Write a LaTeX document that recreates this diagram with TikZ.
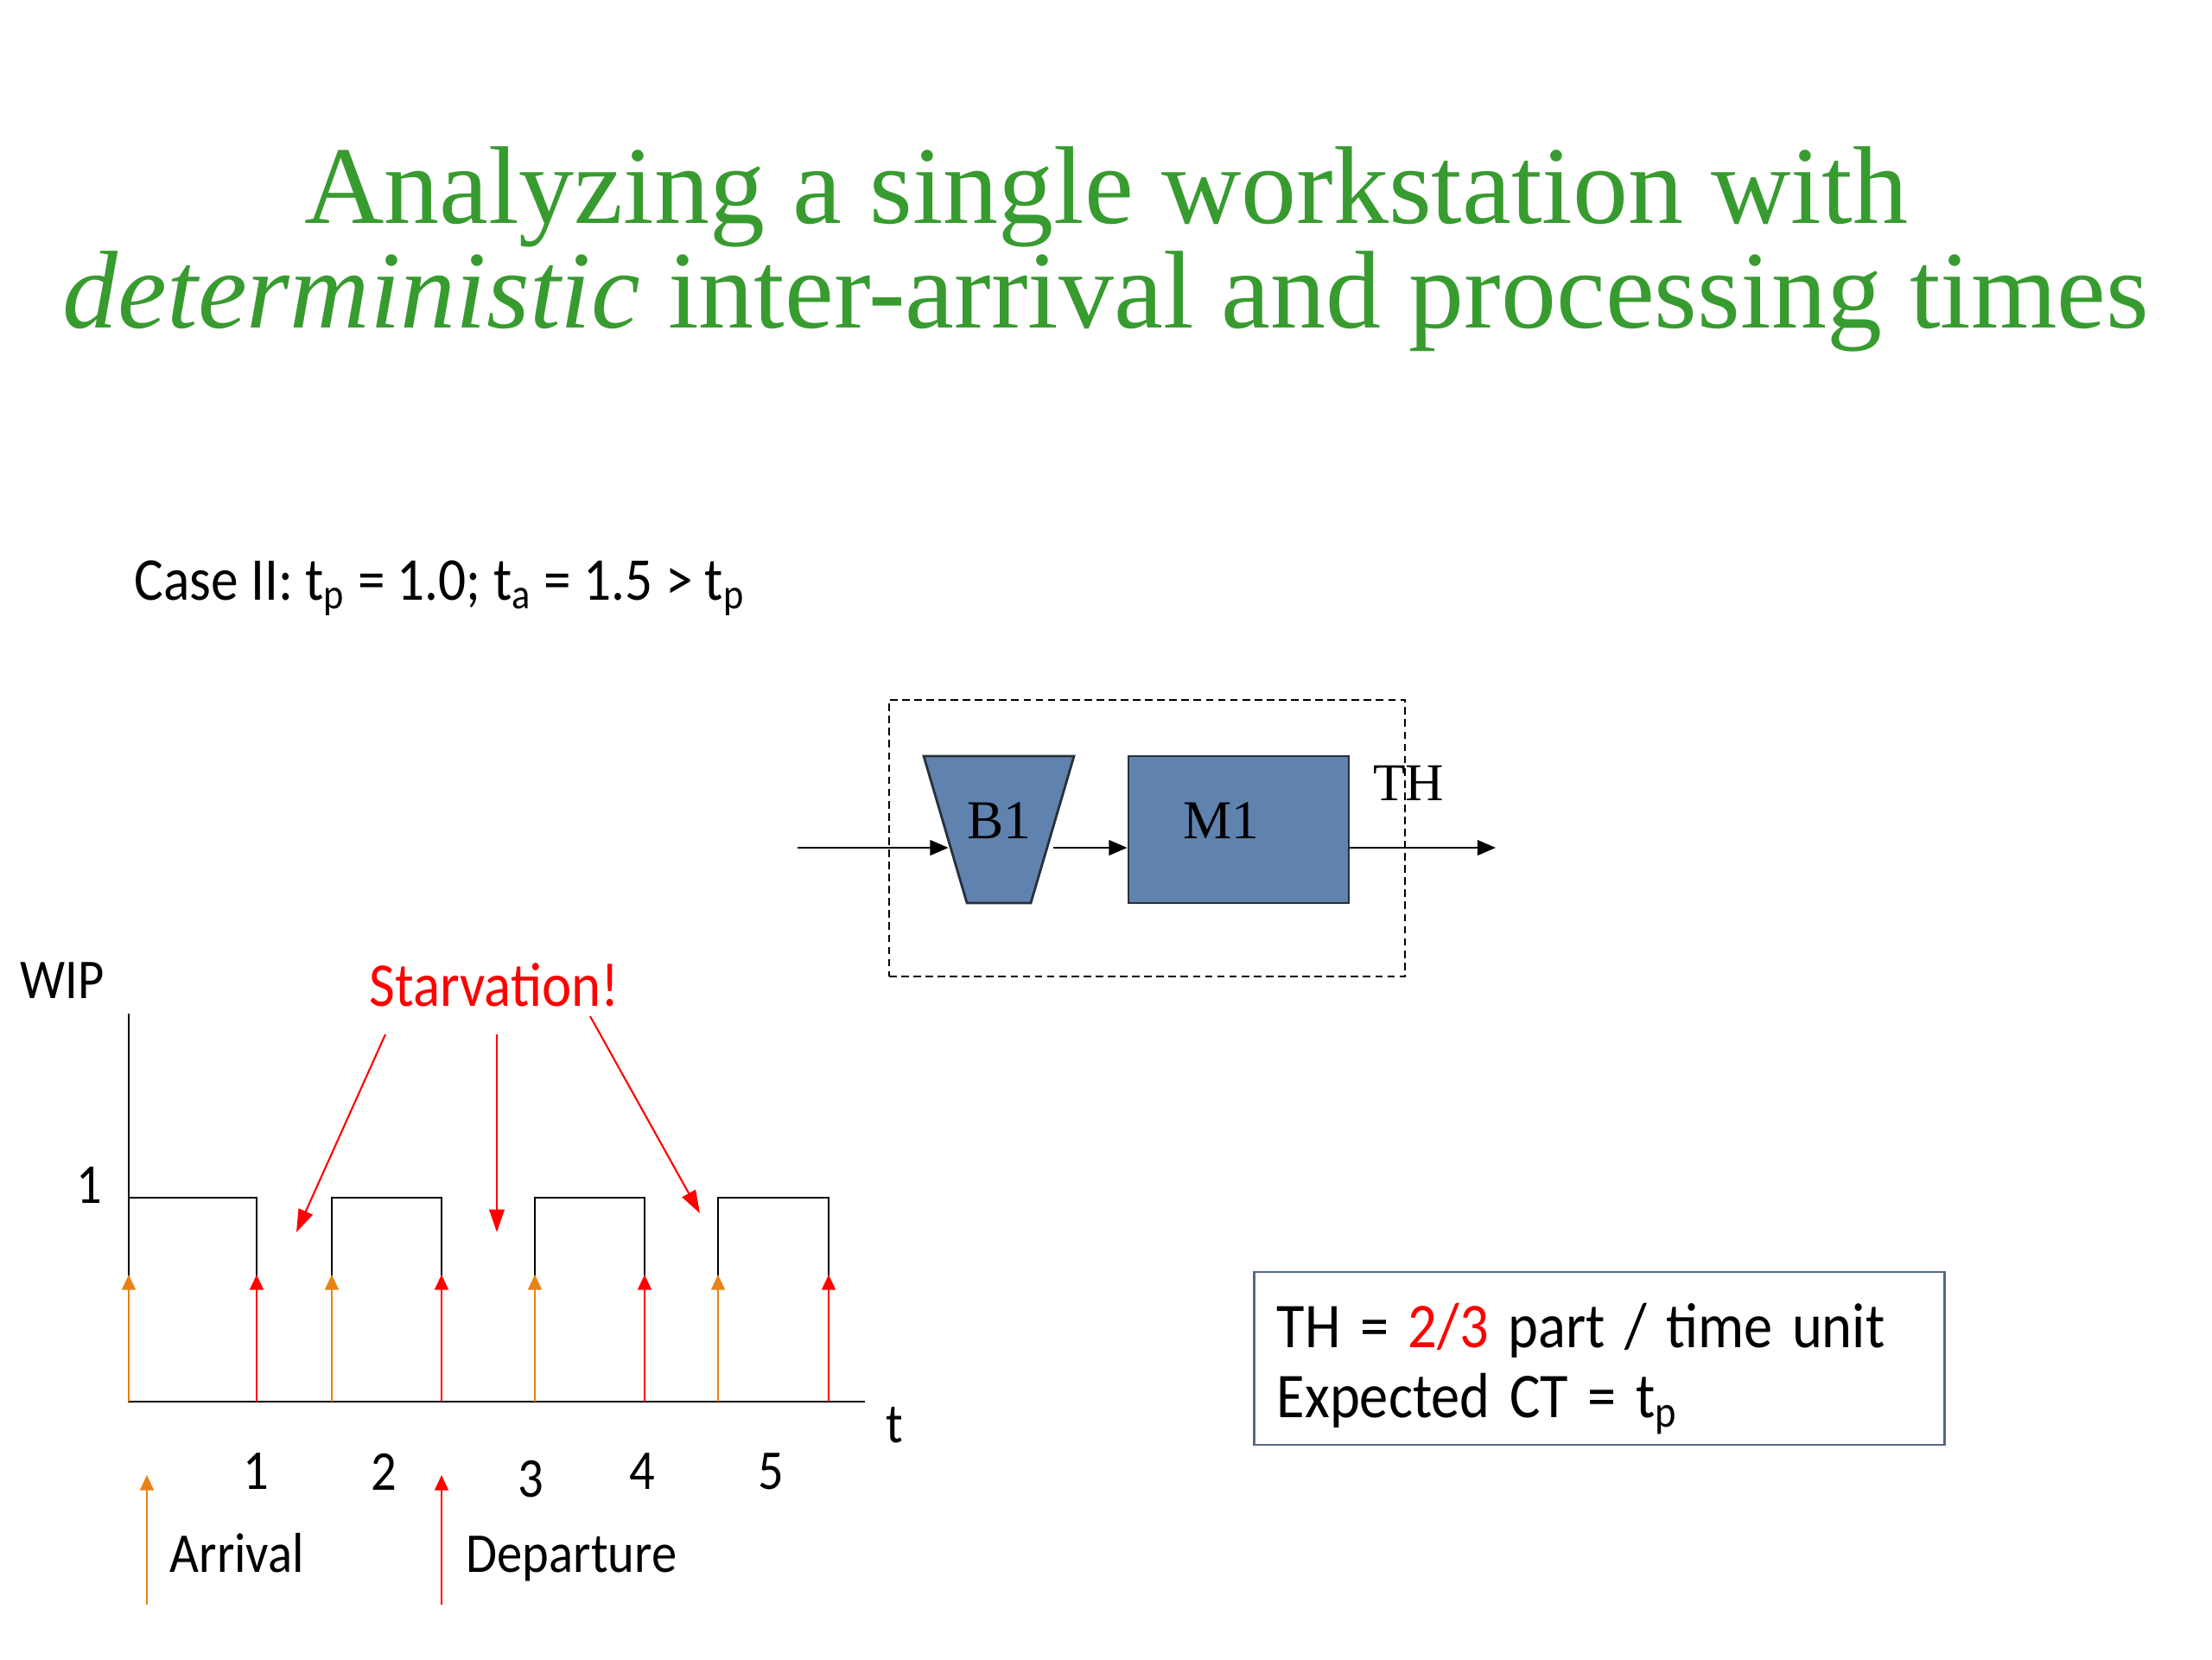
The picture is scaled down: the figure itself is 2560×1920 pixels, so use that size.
\documentclass[tikz,border=0pt]{standalone}
\usepackage{fontspec}
\setmainfont{Carlito}[FakeStretch=0.9]
\newfontfamily\boxfont{Carlito}[FakeStretch=0.9, WordSpace=1.5]
\newfontfamily\titlefont{Liberation Serif}
\usepackage{xcolor}
\usetikzlibrary{arrows.meta,positioning,calc,shapes.geometric}
\definecolor{titlegreen}{RGB}{56,155,48}
\definecolor{blockblue}{RGB}{96,130,174}
\definecolor{blockedge}{RGB}{38,48,60}
\definecolor{arrorange}{RGB}{232,130,20}
\definecolor{boxedge}{RGB}{84,104,134}

\begin{document}
\begin{tikzpicture}[x=0.01cm, y=-0.01cm,
  ttl/.style={font=\titlefont\fontsize{36.4}{34}\selectfont, text=titlegreen, anchor=base, inner sep=0pt},
  blk/.style={draw=blockedge, fill=blockblue, line width=0.8pt, font=\titlefont\fontsize{18}{18}\selectfont, inner sep=0pt, text depth=0.2cm},
  lbl/.style={font=\fontsize{18.5}{18.5}\selectfont, inner sep=0pt},
  arr/.style={-{Triangle[length=6pt,width=5pt]}, line width=0.6pt},
  arrv/.style={-{Triangle[length=5pt,width=4.5pt]}, arrorange, line width=0.6pt},
  dep/.style={-{Triangle[length=5pt,width=4.5pt]}, red, line width=0.6pt},
  sarr/.style={-{Triangle[length=7.5pt,width=5pt]}, red, line width=0.6pt}
]
\useasboundingbox (0,0) rectangle (2560,1920);

\node[ttl] (title1) at (1280,258) {Analyzing a single workstation with};
\node[ttl] (title2) at (1280,379) {\textit{deterministic} inter-arrival and processing times};

\node[lbl, font=\fontsize{20}{20}\selectfont, anchor=base west] (case) at (155,694) {Case II: t\textsubscript{p} = 1.0; t\textsubscript{a} = 1.5 > t\textsubscript{p}};

\node[draw, line width=0.6pt, dash pattern=on 2.5pt off 1.5pt, minimum width=5.97cm, minimum height=3.20cm] (ws) at (1327.5,970) {};
\node[blk, trapezium, trapezium angle=51, shape border rotate=180, trapezium stretches body=true, minimum width=1.70cm, minimum height=1.70cm] (B1) at (1156,960) {B1};
\node[blk, minimum width=2.55cm, minimum height=1.70cm] (M1) at (1433.5,960) {\hspace*{-0.4cm}M1};
\node[font=\titlefont\fontsize{17.5}{17.5}\selectfont, inner sep=0pt] (th) at (1630,906) {TH};
\coordinate (in) at (923,981);
\coordinate (out) at (1731,981);
\draw[arr] (in) -- ($(in -| B1.west)+(5,0)$);
\draw[arr] (B1.east |- in) -- (M1.west |- in);
\draw[arr] (M1.east |- in) -- (out);

\coordinate (o) at (149,1622);
\draw[line width=0.6pt] (149,1173) -- (o) -- (1001,1622);
\foreach \a/\d in {149/297,384/511,619/746,831/959}{
  \draw[line width=0.6pt] (\a,1622) -- (\a,1386) -- (\d,1386) -- (\d,1622);
  \draw[arrv] (\a,1622) -- (\a,1475);
  \draw[dep] (\d,1622) -- (\d,1475);
}
\node[lbl] (wip) at (72,1135) {WIP};
\node[lbl] (one) at (103,1372) {1};
\node[lbl] (tlbl) at (1035,1649) {t};
\foreach \n/\x/\y in {1/296/1703,2/444/1703,3/614/1712,4/743/1703,5/892/1703}
  \node[lbl] (tick\n) at (\x,\y) {\n};

\node[lbl, text=red, font=\fontsize{20.5}{20.5}\selectfont] (starv) at (572,1140) {Starvation!};
\foreach \sx/\sy/\gx/\gy in {446/1197/343/1426,575/1197/575/1426,683/1176/810/1404}
  \draw[sarr] (\sx,\sy) -- (\gx,\gy);

\draw[arrv] (170,1857) -- (170,1707);
\node[lbl, anchor=base west] (arrival) at (196,1819) {Arrival};
\draw[dep] (511,1857) -- (511,1707);
\node[lbl, anchor=base west] (departure) at (539,1819) {Departure};

\node[draw=boxedge, line width=0.8pt, align=flush left, text width=7.46cm, inner xsep=0.26cm, minimum height=1.98cm, font=\boxfont\fontsize{21}{23.2}\selectfont] (res) at (1851,1572) {\rule{0pt}{21.5pt}TH = \textcolor{red}{2/3} part / time unit\\ Expected CT = t\textsubscript{p}};
\end{tikzpicture}
\end{document}
